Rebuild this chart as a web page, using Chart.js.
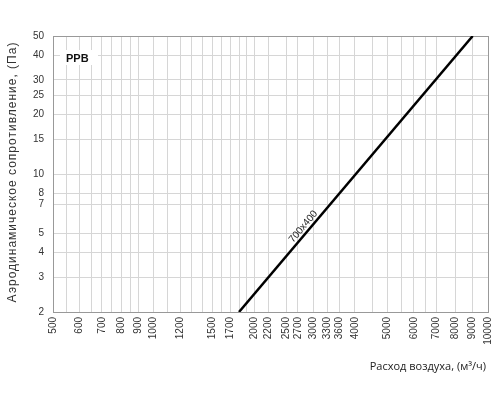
<!DOCTYPE html>
<html><head><meta charset="utf-8">
<script src="https://cdn.jsdelivr.net/npm/chart.js@4/dist/chart.umd.min.js"></script>
<style>html,body{margin:0;padding:0;background:#fff;}canvas{display:block;}</style>
</head><body>
<canvas id="c" width="500" height="400"></canvas>
<script>
// ---- data ----
const xTickLabels = [500,600,700,800,900,1000,1200,1500,1700,2000,2200,2500,2700,3000,3300,3600,4000,5000,6000,7000,8000,9000,10000];
const xMinorGrid = [550,650,750,850,1100,1300,1400,1600,1800,1900,4500,5500,6500];
const yTickLabels = [2,3,4,5,7,8,10,15,20,25,30,40,50];
const seriesName = '700x400';
const flow = [1800, 9000];
const pressure = [2, 50];
const chartLabel = 'PPB';
const xTitle = 'Расход воздуха, (м³/ч)';
const yTitle = 'Аэродинамическое сопротивление, (Па)';

const xAllTicks = xTickLabels.concat(xMinorGrid).sort((a,b)=>a-b);
const FONT = "'Liberation Sans', Arial, sans-serif";

const textPlugin = {
  id: 'texts',
  afterDraw(chart) {
    const ctx = chart.ctx;
    const xs = chart.scales.x, ys = chart.scales.y;
    ctx.save();
    // PPB label with white box
    ctx.fillStyle = '#fff';
    ctx.fillRect(60, 50, 38, 15);
    ctx.fillStyle = '#111';
    ctx.font = "bold 11px " + FONT;
    ctx.textAlign = 'left';
    ctx.textBaseline = 'alphabetic';
    ctx.fillText(chartLabel, 66, 61.5);

    // series label along line
    const x0 = xs.getPixelForValue(flow[0]), y0 = ys.getPixelForValue(pressure[0]);
    const x1 = xs.getPixelForValue(flow[1]), y1 = ys.getPixelForValue(pressure[1]);
    const ang = Math.atan2(y1 - y0, x1 - x0);
    const t = 0.295;
    const ax = x0 + (x1 - x0) * t, ay = y0 + (y1 - y0) * t;
    const nx = Math.sin(ang), ny = -Math.cos(ang);
    ctx.translate(ax + nx * 6, ay + ny * 6);
    ctx.rotate(ang);
    ctx.font = "10px " + FONT;
    ctx.fillStyle = '#222';
    ctx.textAlign = 'center';
    ctx.textBaseline = 'middle';
    ctx.fillText(seriesName, 0, 0);
    ctx.restore();

    // axis titles
    ctx.save();
    ctx.fillStyle = '#222';
    ctx.font = "11px 'Open Sans', " + FONT;
    ctx.textAlign = 'right';
    ctx.textBaseline = 'middle';
    ctx.fillText(xTitle, 486, 367);
    ctx.restore();

    ctx.save();
    ctx.fillStyle = '#333';
    ctx.font = "12px " + FONT;
    ctx.letterSpacing = '1px';
    ctx.translate(12.5, 172);
    ctx.rotate(-Math.PI / 2);
    ctx.textAlign = 'center';
    ctx.textBaseline = 'middle';
    ctx.fillText(yTitle, 0, 0);
    ctx.restore();
  }
};

new Chart(document.getElementById('c'), {
  type: 'line',
  data: {
    datasets: [{
      label: seriesName,
      data: flow.map((f, i) => ({x: f, y: pressure[i]})),
      borderColor: '#000',
      borderWidth: 2.5,
      pointRadius: 0,
      fill: false,
      tension: 0
    }]
  },
  options: {
    responsive: false,
    animation: false,
    layout: {padding: {left: 0, top: 36, right: 12, bottom: 0}},
    plugins: {legend: {display: false}, tooltip: {enabled: false}},
    scales: {
      x: {
        type: 'logarithmic',
        min: 500, max: 10000,
        afterBuildTicks: s => { s.ticks = xAllTicks.map(v => ({value: v})); },
        afterFit: s => { s.height = 88; s.paddingRight = 0; s.paddingLeft = 0; },
        ticks: {
          autoSkip: false,
          minRotation: 90, maxRotation: 90,
          padding: 5,
          color: '#333',
          font: {family: FONT, size: 10},
          callback: v => xTickLabels.includes(v) ? String(v) : ''
        },
        grid: {
          drawTicks: false,
          color: c => (c.tick && c.tick.value === 10000) ? '#999' : '#d6d6d6',
          lineWidth: 1
        },
        border: {color: '#999', width: 1}
      },
      y: {
        type: 'logarithmic',
        min: 2, max: 50,
        afterBuildTicks: s => { s.ticks = yTickLabels.map(v => ({value: v})); },
        afterFit: s => { s.width = 53; s.paddingTop = 0; s.paddingBottom = 0; },
        ticks: {
          autoSkip: false,
          padding: 9,
          color: '#333',
          font: {family: FONT, size: 10},
          callback: v => String(v)
        },
        grid: {
          drawTicks: false,
          color: c => (c.tick && c.tick.value === 50) ? '#999' : '#d6d6d6',
          lineWidth: 1
        },
        border: {color: '#999', width: 1}
      }
    }
  },
  plugins: [textPlugin]
});
</script>
</body></html>
